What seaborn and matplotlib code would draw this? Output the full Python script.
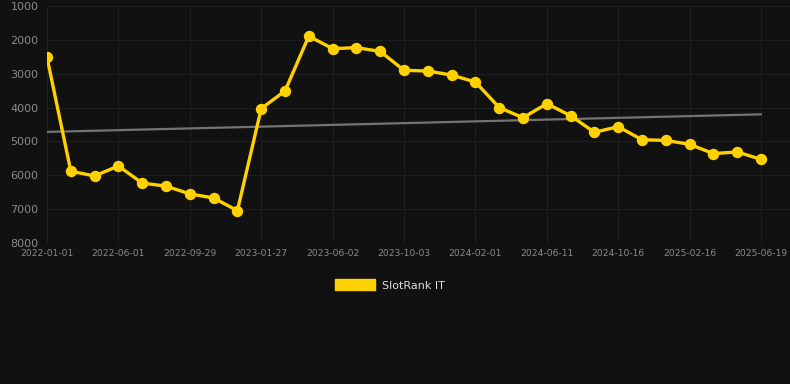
import numpy as np
import pandas as pd
import matplotlib
matplotlib.use("Agg")
import matplotlib.pyplot as plt
import seaborn as sns
from matplotlib.patches import Patch

# 数据
dates = [
    "2022-01-01", "2022-02-20", "2022-04-11", "2022-06-01", "2022-07-11",
    "2022-08-20", "2022-09-29", "2022-11-08", "2022-12-18", "2023-01-27",
    "2023-03-09", "2023-04-21", "2023-06-02", "2023-07-13", "2023-08-23",
    "2023-10-03", "2023-11-12", "2023-12-22", "2024-02-01", "2024-03-15",
    "2024-04-28", "2024-06-11", "2024-07-23", "2024-09-03", "2024-10-16",
    "2024-11-26", "2025-01-06", "2025-02-16", "2025-03-29", "2025-05-09",
    "2025-06-19",
]
rank = [
    2515, 5880, 6020, 5725, 6230, 6320, 6550, 6670, 7045, 4030,
    3510, 1890, 2260, 2230, 2340, 2900, 2920, 3040, 3245, 4000,
    4300, 3885, 4240, 4730, 4565, 4950, 4970, 5085, 5360, 5310,
    5530,
]
y_ticks = [1000, 2000, 3000, 4000, 5000, 6000, 7000, 8000]
series_name = "SlotRank IT"

# 配色
BG = "#111111"
GOLD = "#FFD100"
GRID = "#1f1f1f"
TICK = "#8a8a8a"

df = pd.DataFrame({"idx": np.arange(len(dates)), "date": dates, "rank": rank})
# 趋势线：线性回归
coef = np.polyfit(df["idx"], df["rank"], 1)
df["trend"] = np.polyval(coef, df["idx"])

sns.set_style("dark")
fig = plt.figure(figsize=(7.9, 3.84), dpi=100, facecolor=BG)
ax = fig.add_axes([47 / 790, 1 - 243 / 384, 1 - 47 / 790, 237 / 384])
ax.set_facecolor(BG)

sns.lineplot(data=df, x="idx", y="trend", ax=ax, color="#737373", linewidth=1.6)
sns.lineplot(data=df, x="idx", y="rank", ax=ax, color=GOLD, linewidth=2.4,
             marker="o", markersize=8.2, markeredgewidth=0, markeredgecolor=GOLD)

ax.set_xlim(0, 30 + 29 / 23.8)
ax.set_ylim(8000, 1000)
ax.set_yticks(y_ticks)
ax.set_yticklabels([str(v) for v in y_ticks], fontsize=8, color=TICK)
ax.set_xticks(df["idx"][::3])
ax.set_xticklabels(df["date"][::3], fontsize=6.6, color=TICK)
ax.tick_params(axis="both", length=0, pad=4)
ax.tick_params(axis="y", pad=6)
ax.grid(True, color=GRID, linewidth=0.8)
ax.set_xlabel("")
ax.set_ylabel("")
for s in ax.spines.values():
    s.set_visible(False)

fig.legend(handles=[Patch(facecolor=GOLD, edgecolor=GOLD, label=series_name)],
           loc="center", bbox_to_anchor=(390 / 790, 1 - 285 / 384), frameon=False,
           fontsize=8, labelcolor="#dddddd", handlelength=3.6, handleheight=1.1,
           handletextpad=0.6)

fig.savefig("out.png", dpi=100, facecolor=BG)
